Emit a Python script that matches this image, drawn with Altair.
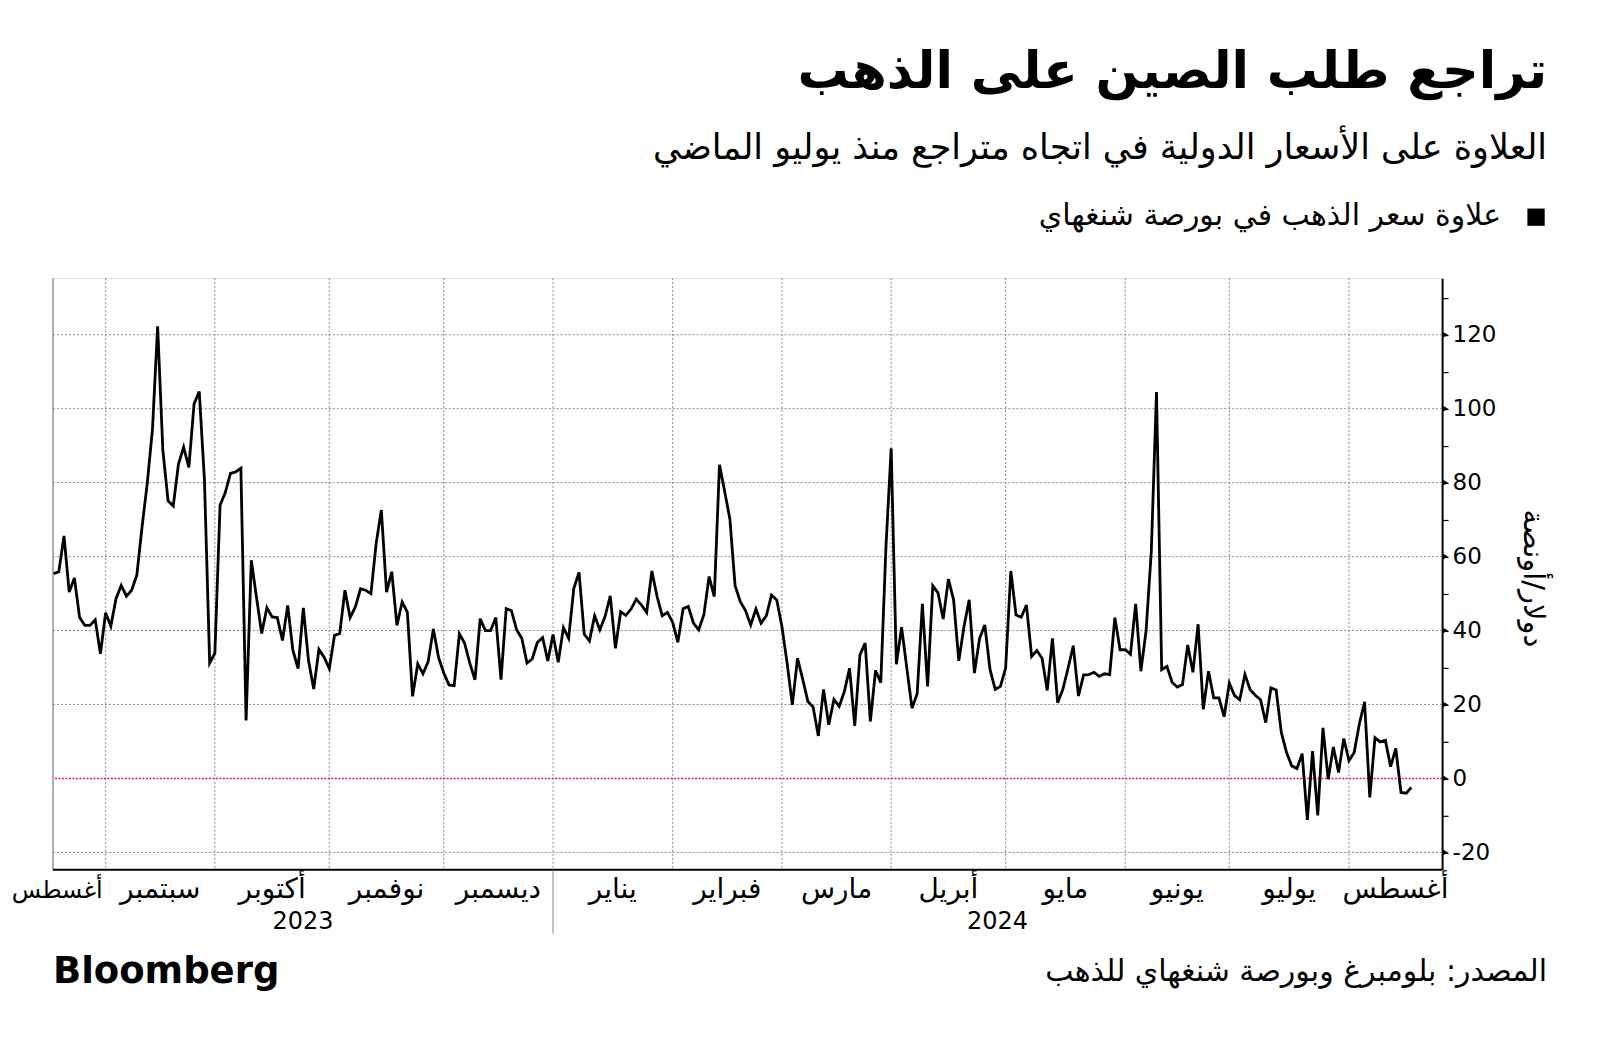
import altair as alt
import pandas as pd
import numpy as np

# ---------------- data ----------------
START = "2023-08-18"
END = "2024-08-19"
MISSING = ["2024-04-04"]

premium = [
    55.4, 55.9, 65.6, 50.4, 54.2, 43.5, 41.4, 41.4, 42.9, 33.7,
    44.8, 41.2, 48.6, 52.2, 49.3, 50.9, 55.0, 68.0, 79.8, 94.3,
    122.3, 88.8, 75.1, 73.7, 85.0, 89.6, 84.1, 101.3, 104.6, 80.7,
    31.2, 33.9, 73.9, 77.3, 82.5, 82.9, 83.9, 15.7, 59.0, 49.0,
    39.2, 46.2, 43.7, 43.5, 37.3, 46.8, 34.6, 29.7, 46.1, 31.9,
    24.2, 34.9, 32.8, 29.7, 38.7, 39.2, 50.9, 43.5, 46.4, 51.3,
    50.9, 50.0, 63.5, 72.6, 50.4, 55.9, 41.4, 47.7, 45.0, 22.2,
    31.0, 28.3, 31.6, 40.4, 32.7, 28.5, 25.3, 25.1, 39.1, 36.6,
    31.2, 26.7, 43.2, 40.0, 40.0, 43.5, 26.7, 45.9, 45.4, 40.2,
    37.9, 31.2, 32.3, 36.8, 38.1, 31.8, 38.9, 31.4, 40.8, 37.9,
    51.4, 55.7, 39.0, 37.2, 44.0, 40.2, 43.8, 49.4, 35.2, 45.1,
    44.1, 45.8, 48.5, 46.9, 44.9, 56.1, 49.2, 44.0, 44.9, 42.2,
    36.8, 45.9, 46.5, 42.0, 40.2, 44.3, 54.6, 49.2, 84.8, 77.6,
    70.1, 52.1, 47.8, 45.4, 41.5, 45.8, 42.0, 44.0, 49.6, 48.3,
    41.1, 31.2, 19.9, 32.5, 26.8, 20.8, 19.3, 11.5, 24.1, 14.5,
    21.4, 19.5, 23.5, 29.8, 14.2, 33.4, 36.6, 15.4, 29.2, 25.9,
    62.7, 89.3, 30.9, 40.9,
    19.0, 22.9, 47.2, 24.9, 52.1,
    50.2, 43.1, 53.9, 48.3, 31.8, 41.1, 48.3, 28.5, 37.9, 41.5,
    29.5, 24.1, 24.9, 29.8, 56.1, 44.2, 43.6, 46.9, 33.0, 34.6,
    32.5, 23.8, 37.9, 20.5, 24.1, 29.8, 35.9, 22.3, 28.0, 28.1,
    28.7, 27.6, 28.3, 28.1, 43.5, 34.8, 34.8, 33.6, 47.2, 29.0,
    39.9, 61.3, 104.5, 29.4, 30.3, 26.0, 24.7, 25.4, 36.1, 28.7,
    41.7, 18.7, 29.0, 21.8, 21.8, 16.7, 25.8, 22.4, 21.3, 28.1,
    24.0, 22.5, 21.3, 15.1, 24.5, 23.9, 12.4, 7.0, 3.4, 2.7,
    6.7, -11.2, 7.4, -10.0, 13.7, -0.2, 8.5, 1.6, 10.8, 4.8,
    7.0, 14.8, 20.7, -5.1, 11.0, 9.9, 10.3, 3.2, 8.1, -3.8,
    -4.0, -2.4,
]

month_starts = ["2023-09-01", "2023-10-01", "2023-11-01", "2023-12-01",
                "2024-01-01", "2024-02-01", "2024-03-01", "2024-04-01",
                "2024-05-01", "2024-06-01", "2024-07-01", "2024-08-01"]
month_names = ["أغسطس", "سبتمبر", "أكتوبر", "نوفمبر", "ديسمبر", "يناير",
               "فبراير", "مارس", "أبريل", "مايو", "يونيو", "يوليو", "أغسطس"]
years = ["2023", "2024"]
y_ticks = list(range(-20, 131, 10))
y_grid = [-20, 20, 40, 60, 80, 100, 120]
y_major = [-20, 0, 20, 40, 60, 80, 100, 120]

TITLE = "تراجع طلب الصين على الذهب"
SUBTITLE = "العلاوة على الأسعار الدولية في اتجاه متراجع منذ يوليو الماضي"
LEGEND = "علاوة سعر الذهب في بورصة شنغهاي"
SOURCE = "المصدر: بلومبرغ وبورصة شنغهاي للذهب"
YTITLE = "دولار/أونصة"

# ---------------- build tables ----------------
dates = [d for d in pd.bdate_range(START, END) if d.strftime("%Y-%m-%d") not in MISSING]
assert len(dates) == len(premium), (len(dates), len(premium))

def wd(d):
    return int(np.busday_count(np.datetime64(START), np.datetime64(pd.Timestamp(d).strftime("%Y-%m-%d"))))

df = pd.DataFrame({"idx": [wd(d) for d in dates], "value": premium})

XMIN, XMAX = -0.12, 266.9
grid_idx = [int(np.busday_count(np.datetime64(START), np.busday_offset(np.datetime64(m), 0, roll="forward")))
            for m in month_starts]
label_pos = [(grid_idx[i - 1] + grid_idx[i]) / 2 for i in range(1, len(grid_idx))]
label_pos.append((grid_idx[-1] + XMAX) / 2)
df_mlab = pd.DataFrame({"idx": label_pos, "t": month_names[1:]})
df_mlab0 = pd.DataFrame({"idx": [grid_idx[0]], "t": [month_names[0]]})
jan_idx = grid_idx[4]
df_years = pd.DataFrame({"idx": [(XMIN + jan_idx) / 2, (jan_idx + XMAX) / 2], "t": years})
df_vgrid = pd.DataFrame({"idx": grid_idx})
df_hgrid = pd.DataFrame({"value": y_grid})
df_major = pd.DataFrame({"value": y_major})

W, H = 1390, 592
FONT = "DejaVu Sans"

xsc = alt.Scale(domain=[XMIN, XMAX], nice=False, zero=False)
ysc = alt.Scale(domain=[-24.7, 135.3], nice=False, zero=False)
X = alt.X("idx:Q", scale=xsc, axis=None)
yaxis = alt.Axis(
    orient="right", values=y_ticks,
    labelExpr="datum.value % 20 == 0 ? '' + datum.value : ''",
    grid=False, domainColor="black", domainWidth=2,
    tickColor="black", tickWidth=1.2, tickSize=6,
    labelFontSize=23, labelColor="black", labelPadding=4, labelFont=FONT,
    title=YTITLE, titleFontSize=29, titleAngle=90, titleX=90, titleY=300,
    titleFontWeight="normal", titleColor="black", titleFont=FONT,
    titleAlign="center", titleBaseline="middle",
)
Y = alt.Y("value:Q", scale=ysc, axis=yaxis)

vgrid = alt.Chart(df_vgrid).mark_rule(color="#8a8a8a", strokeWidth=1, strokeDash=[2, 2]).encode(x=X)
hgrid = alt.Chart(df_hgrid).mark_rule(color="#8a8a8a", strokeWidth=1, strokeDash=[2, 2]).encode(y=Y)
zero = alt.Chart(pd.DataFrame({"value": [0]})).mark_rule(
    color="#d9223f", strokeWidth=1.5, strokeDash=[2, 1.5]).encode(y=Y)
left_border = alt.Chart(pd.DataFrame({"a": [0]})).mark_rule(color="#999999", strokeWidth=1.5).encode(
    x=alt.value(0), y=alt.value(0), y2=alt.value(H))
bottom_axis = alt.Chart(pd.DataFrame({"a": [0]})).mark_rule(color="black", strokeWidth=2).encode(
    x=alt.value(0), x2=alt.value(W), y=alt.value(H), y2=alt.value(H))
line = alt.Chart(df).mark_line(color="black", strokeWidth=2.8).encode(x=X, y=Y)
tris = alt.Chart(df_major).mark_point(shape="triangle-right", filled=True, color="black",
                                      size=32, opacity=1).encode(x=alt.value(W + 3.5), y=Y)

mlab = alt.Chart(df_mlab).mark_text(fontSize=28, font=FONT, color="black", align="center",
                                    baseline="alphabetic").encode(x=X, y=alt.value(620), text="t:N")
mlab0 = alt.Chart(df_mlab0).mark_text(fontSize=24, font=FONT, color="black", align="right",
                                      baseline="alphabetic", dx=-3).encode(x=X, y=alt.value(620), text="t:N")
ylab = alt.Chart(df_years).mark_text(fontSize=24, font=FONT, color="black", align="center",
                                     baseline="alphabetic").encode(x=X, y=alt.value(651), text="t:N")
sep = alt.Chart(pd.DataFrame({"idx": [jan_idx]})).mark_rule(color="#888888", strokeWidth=1).encode(
    x=X, y=alt.value(H), y2=alt.value(H + 64))

def txt(s, x, y, size, align="right", weight="normal"):
    return alt.Chart(pd.DataFrame({"t": [s]})).mark_text(
        fontSize=size, font=FONT, fontWeight=weight, color="black", align=align,
        baseline="alphabetic").encode(x=alt.value(x), y=alt.value(y), text="t:N")

title = txt(TITLE, 1495, -190, 51, weight="bold")
subtitle = txt(SUBTITLE, 1495, -119, 35)
legend_t = txt(LEGEND, 1449, -53, 30)
legend_sq = alt.Chart(pd.DataFrame({"a": [0]})).mark_square(color="black", size=300, opacity=1).encode(
    x=alt.value(1484), y=alt.value(-61))
brand = txt("Bloomberg", 0, 705, 37, align="left", weight="bold")
source = txt(SOURCE, 1495, 703, 30)

chart = alt.layer(
    vgrid, hgrid, zero, left_border, bottom_axis, line, tris,
    mlab, mlab0, ylab, sep, title, subtitle, legend_t, legend_sq, brand, source,
).properties(
    width=W, height=H,
    autosize=alt.AutoSizeParams(type="none"),
    padding={"left": 45, "top": 270, "right": 150, "bottom": 165},
).configure_view(stroke=None).configure(font=FONT)

chart.save("out.html", embed_options={"renderer": "svg", "actions": False})
